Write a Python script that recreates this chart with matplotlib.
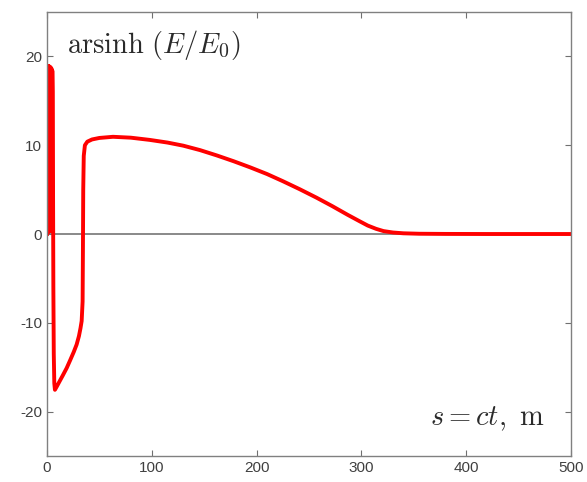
import matplotlib
matplotlib.use('Agg')
import matplotlib.pyplot as plt

plt.rcParams['mathtext.fontset'] = 'cm'
plt.rcParams['font.family'] = ['Liberation Sans', 'DejaVu Sans']
plt.rcParams['axes.unicode_minus'] = False

# s = ct (m) and arsinh(E/E0)
# first few metres: fast oscillation between 0 and ~19
osc_s = [0.0, 0.3, 0.6, 0.9, 1.2, 1.5, 1.8, 2.1, 2.4, 2.7, 3.0, 3.3, 3.6, 3.9,
         4.2, 4.5, 4.8, 5.1, 5.4]
osc_e = [0.0, 18.6, 0.3, 18.8, 0.2, 18.9, 0.3, 18.9, 0.3, 18.8, 0.4, 18.8, 0.4, 18.7,
         0.5, 18.6, 0.6, 18.4, 16.0]
# then the dip, the plateau and the decay
main_s = [5.8, 6.1, 6.5, 7.0, 7.6, 9.5, 12.0, 15.0, 18.8, 22.0, 25.5, 28.3,
          30.5, 32.0, 33.1, 34.0, 34.3, 34.6, 35.1, 36.2, 38.5, 43.0, 50.0, 63.0,
          80.0, 98.0, 115.0, 130.0, 146.0, 162.0, 178.0, 194.0, 210.0, 225.0,
          241.0, 257.0, 272.0, 287.0, 298.0, 306.0, 314.0, 321.0, 330.0,
          340.0, 355.0, 380.0, 420.0, 500.0]
main_e = [5.0, -6.0, -13.5, -16.8, -17.55, -17.15, -16.6, -15.95, -15.1, -14.25, -13.3, -12.45,
          -11.5, -10.6, -9.8, -7.6, -2.0, 5.0, 8.8, 10.0, 10.4, 10.65, 10.82, 10.95,
          10.85, 10.6, 10.3, 9.95, 9.45, 8.85, 8.2, 7.5, 6.75, 5.95,
          5.05, 4.1, 3.15, 2.15, 1.45, 0.95, 0.58, 0.33, 0.17,
          0.08, 0.03, 0.01, 0.0, 0.0]

x_ticks = [0, 100, 200, 300, 400, 500]
y_ticks = [-20, -10, 0, 10, 20]

fig = plt.figure(figsize=(5.87, 4.82), dpi=100)
ax = fig.add_axes([0.080, 0.054, 0.893, 0.921])

ax.axhline(0, color='#808080', linewidth=1.3, zorder=1)
ax.plot(osc_s + main_s, osc_e + main_e, color='#ff0000', linewidth=2.8,
        solid_joinstyle='round', zorder=2)

ax.set_xlim(0, 500)
ax.set_ylim(-25, 25)
ax.set_xticks(x_ticks)
ax.set_yticks(y_ticks)
ax.tick_params(direction='in', length=4, width=0.8, colors='#707070',
               labelcolor='#404040', labelsize=11, top=True, right=True)
for sp in ax.spines.values():
    sp.set_color('#808080')
    sp.set_linewidth(1.0)

ax.text(0.038, 0.908, r'$\mathrm{arsinh}\ (E/E_0)$', transform=ax.transAxes,
        fontsize=20.5, color='#2a2a2a', ha='left', va='baseline')
ax.text(0.950, 0.070, r'$s = ct,\ \mathrm{m}$', transform=ax.transAxes,
        fontsize=20.5, color='#2a2a2a', ha='right', va='baseline')

fig.savefig('out.png', dpi=100)
